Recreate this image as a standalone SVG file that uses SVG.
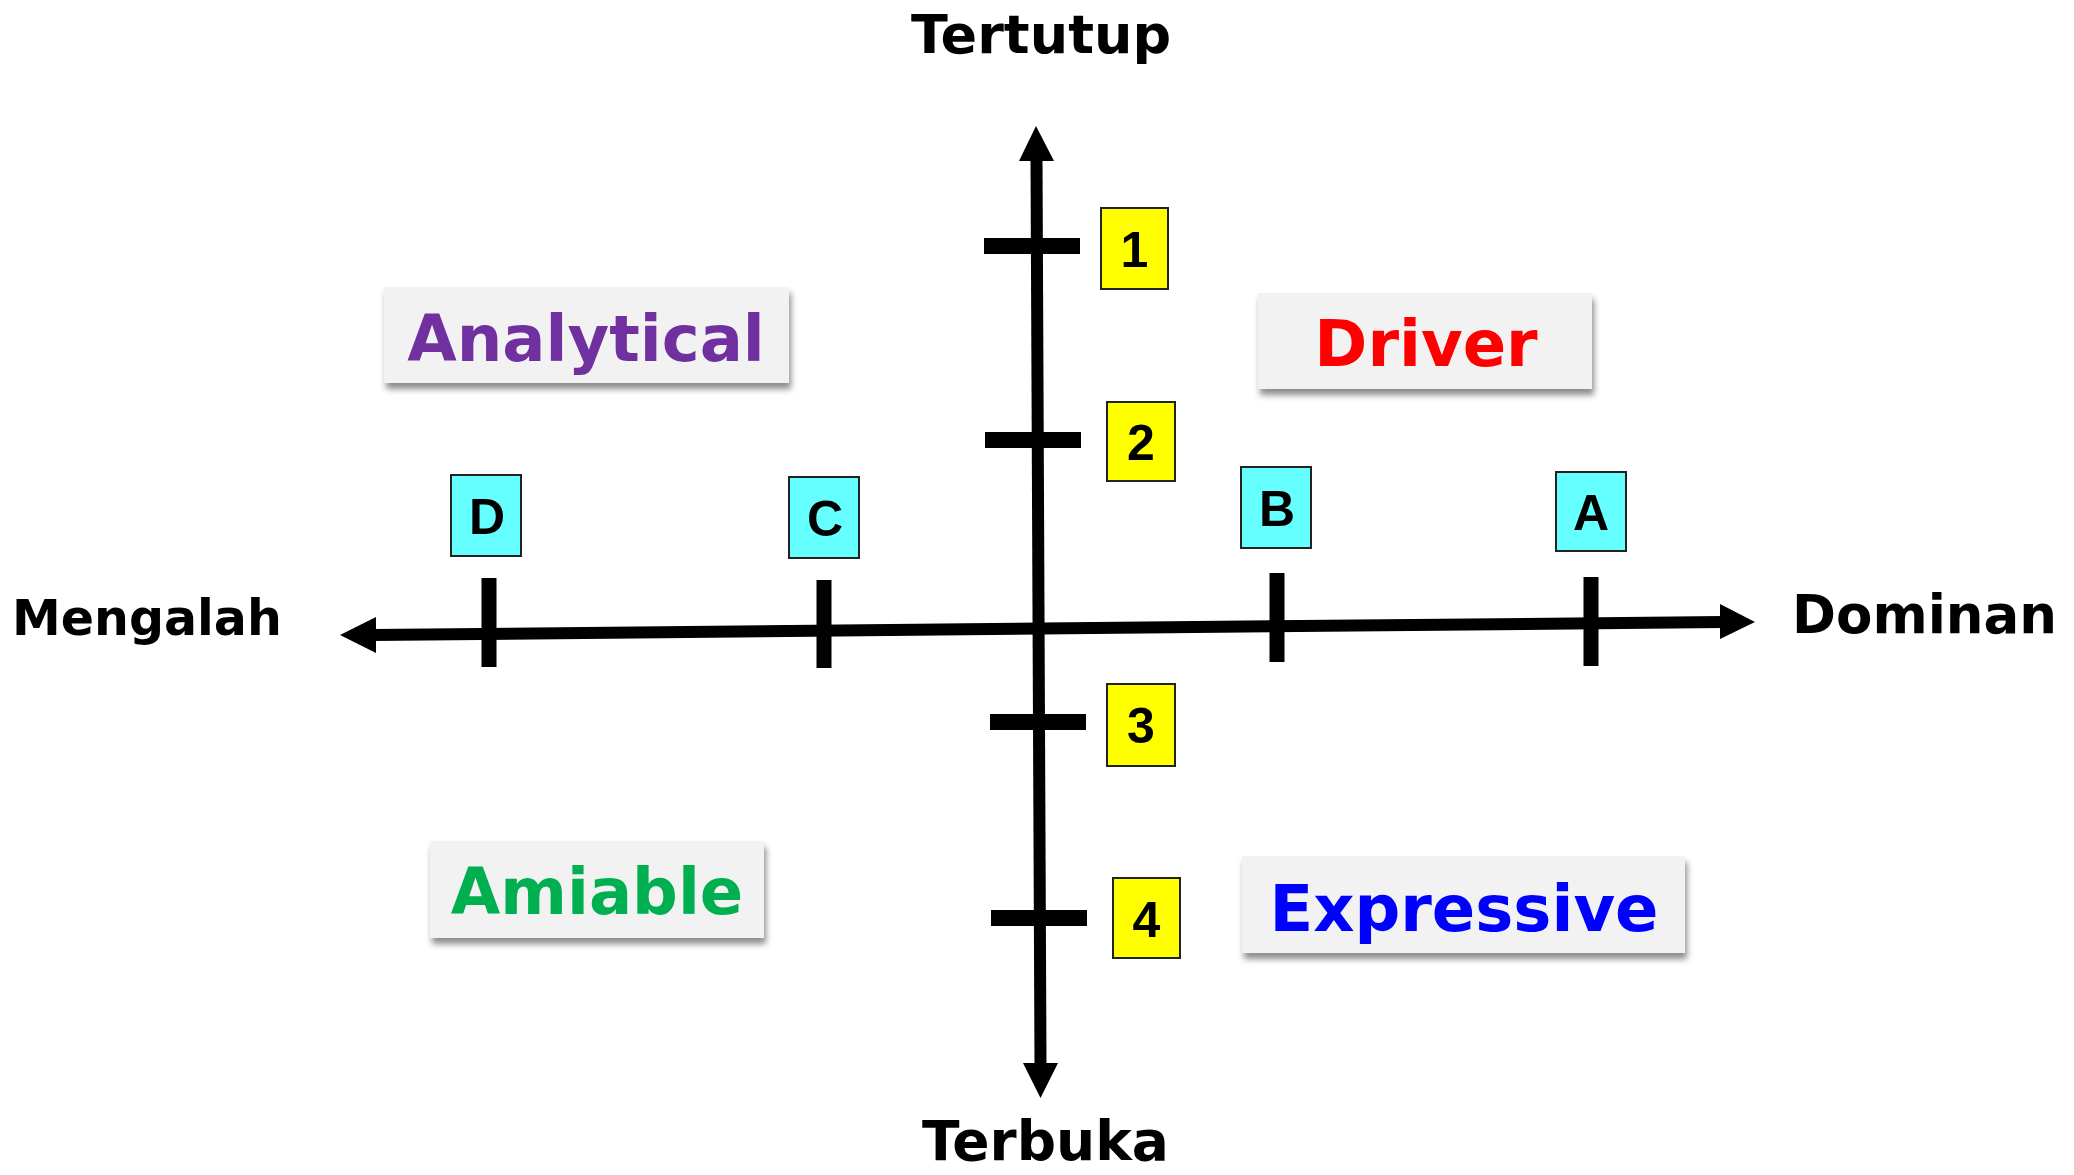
<svg xmlns="http://www.w3.org/2000/svg" width="2074" height="1175" viewBox="0 0 2074 1175">
<style>
.ax{stroke:#000;stroke-width:12;fill:none}
.tk{stroke:#000;fill:none}
.head{fill:#000}
.axlbl{font-family:"DejaVu Sans",Verdana,sans-serif;font-weight:bold;fill:#000}
.cat{fill:#f2f2f2;filter:url(#sh)}
.catt{font-family:"DejaVu Sans",Verdana,sans-serif;font-weight:bold;font-size:64px;text-anchor:middle}
.ybox{fill:#ffff00;stroke:#222;stroke-width:2}
.cbox{fill:#66ffff;stroke:#222;stroke-width:2}
.bt{font-family:"Liberation Sans",Arial,sans-serif;font-weight:bold;font-size:50px;text-anchor:middle;fill:#000}
</style>
<defs>
<filter id="sh" x="-10%" y="-20%" width="120%" height="150%">
<feDropShadow dx="2" dy="6" stdDeviation="3" flood-color="#000" flood-opacity="0.45"/>
</filter>
</defs>
<rect width="2074" height="1175" fill="#fff"/>
<g id="connectors">
<line class="ax" x1="1036.5" y1="158" x2="1040.5" y2="1066"/>
<polygon class="head" points="1036,126 1054,161 1019,161"/>
<polygon class="head" points="1040.5,1098 1058,1063 1023,1063"/>
<line class="ax" x1="372" y1="635" x2="1723" y2="622"/>
<polygon class="head" points="340,635 376,617 376,653"/>
<polygon class="head" points="1755,622 1720,604 1720,639"/>
<g class="tk" stroke-width="16">
<line x1="984" y1="246" x2="1080" y2="246"/>
<line x1="985" y1="440" x2="1081" y2="440"/>
<line x1="990" y1="722" x2="1086" y2="722"/>
<line x1="991" y1="918" x2="1087" y2="918"/>
</g>
<g class="tk" stroke-width="15">
<line x1="489" y1="578" x2="489" y2="667"/>
<line x1="824" y1="580" x2="824" y2="668"/>
<line x1="1277" y1="573" x2="1277" y2="662"/>
<line x1="1591" y1="577" x2="1591" y2="666"/>
</g>
</g>
<g id="label-tertutup"><text class="axlbl" x="1041" y="53" font-size="54" text-anchor="middle">Tertutup</text></g>
<g id="label-terbuka"><text class="axlbl" x="1045.5" y="1160" font-size="55" text-anchor="middle">Terbuka</text></g>
<g id="label-mengalah"><text class="axlbl" x="12" y="635" font-size="49">Mengalah</text></g>
<g id="label-dominan"><text class="axlbl" x="1792" y="633" font-size="53">Dominan</text></g>
<g id="analytical"><rect class="cat" x="384" y="287" width="405" height="96"/><text class="catt" x="586" y="361" fill="#7030a0">Analytical</text></g>
<g id="driver"><rect class="cat" x="1258" y="293" width="334" height="96"/><text class="catt" x="1426" y="366" fill="#ff0000">Driver</text></g>
<g id="amiable"><rect class="cat" x="430" y="841" width="334" height="97"/><text class="catt" x="597" y="914" fill="#00b050">Amiable</text></g>
<g id="expressive"><rect class="cat" x="1242" y="856" width="443" height="97"/><text class="catt" x="1464" y="931" fill="#0000ff">Expressive</text></g>
<g id="box-1"><rect class="ybox" x="1101" y="208" width="67" height="81"/><text class="bt" x="1134.5" y="267">1</text></g>
<g id="box-2"><rect class="ybox" x="1107" y="402" width="68" height="79"/><text class="bt" x="1141" y="460">2</text></g>
<g id="box-3"><rect class="ybox" x="1107" y="684" width="68" height="82"/><text class="bt" x="1141" y="743">3</text></g>
<g id="box-4"><rect class="ybox" x="1113" y="878" width="67" height="80"/><text class="bt" x="1146.5" y="937">4</text></g>
<g id="box-d"><rect class="cbox" x="451" y="475" width="70" height="81"/><text class="bt" x="487" y="534">D</text></g>
<g id="box-c"><rect class="cbox" x="789" y="477" width="70" height="81"/><text class="bt" x="825" y="536">C</text></g>
<g id="box-b"><rect class="cbox" x="1241" y="467" width="70" height="81"/><text class="bt" x="1277" y="526">B</text></g>
<g id="box-a"><rect class="cbox" x="1556" y="472" width="70" height="79"/><text class="bt" x="1591" y="530">A</text></g>
</svg>
